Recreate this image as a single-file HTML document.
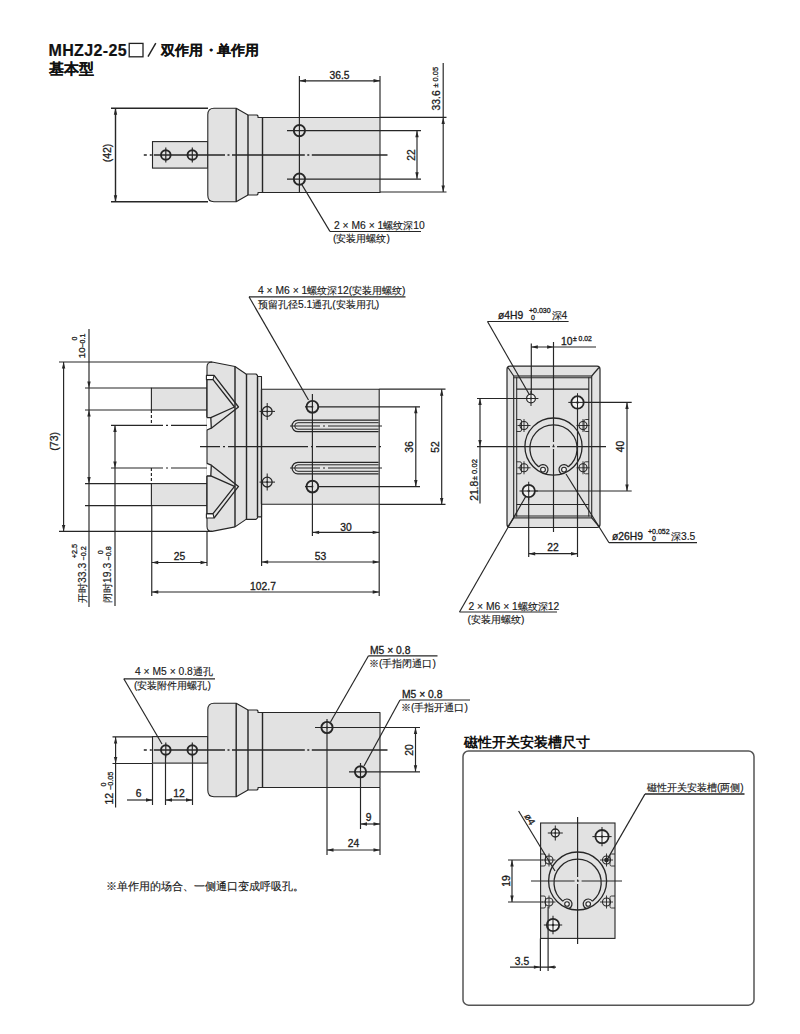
<!DOCTYPE html>
<html><head><meta charset="utf-8"><title>MHZJ2-25</title>
<style>
html,body{margin:0;padding:0;background:#fff;}
body{width:800px;height:1034px;overflow:hidden;position:relative;}
svg{position:absolute;left:0;top:0;display:block;}
text{font-family:"Liberation Sans",sans-serif;}
</style></head><body>
<svg width="800" height="1034" viewBox="0 0 800 1034">
<rect width="800" height="1034" fill="#fff"/>
<text x="48.5" y="55.6" font-size="16" text-anchor="start" font-weight="bold" fill="#111" stroke="#111" stroke-width="0.2" letter-spacing="0.35">MHZJ2-25</text>
<rect x="129.2" y="43.4" width="13.8" height="13.4" fill="none" stroke="#222" stroke-width="1.3"/>
<line x1="148" y1="56.6" x2="155.8" y2="43.2" stroke="#222" stroke-width="1.4300000000000002"/>
<text x="160.5" y="55.2" font-size="14" text-anchor="start" font-weight="bold" fill="#111" stroke="#111" stroke-width="0.1">双作用</text>
<text x="203.5" y="55.2" font-size="14" text-anchor="start" font-weight="bold" fill="#111" stroke="#111" stroke-width="0.1">・</text>
<text x="216.5" y="55.2" font-size="14" text-anchor="start" font-weight="bold" fill="#111" stroke="#111" stroke-width="0.1">单作用</text>
<text x="48.5" y="74" font-size="14.6" text-anchor="start" font-weight="bold" fill="#111" stroke="#111" stroke-width="0.1">基本型</text>
<rect x="152.5" y="141.6" width="55.3" height="26.5" fill="#e2e2e2" stroke="#262626" stroke-width="1.1"/>
<path d="M214 108.3 L236.2 108.3 L248 115 L257 115 L258 116 L258 117.5 L380 117.5 L380 192.5 L258 192.5 L258 194 L257 195 L248 195 L236.2 201.7 L214 201.7 Q207.8 201.7 207.8 195.2 L207.8 114.8 Q207.8 108.3 214 108.3 Z" fill="#e2e2e2" stroke="#262626" stroke-width="1.1" stroke-linejoin="round"/>
<line x1="236.2" y1="108.3" x2="236.2" y2="201.7" stroke="#262626" stroke-width="1.4300000000000002"/>
<line x1="248" y1="115" x2="248" y2="195" stroke="#262626" stroke-width="1.4300000000000002"/>
<line x1="262.5" y1="117.5" x2="262.5" y2="192.5" stroke="#262626" stroke-width="1.4300000000000002"/>
<line x1="143.8" y1="155" x2="387.5" y2="155" stroke="#262626" stroke-width="1.3" stroke-dasharray="3 3 2 2 71.2 2.5 2 2.5 72.8 2.5 2 2.5 200"/>
<circle cx="165.8" cy="155" r="4.8" fill="none" stroke="#262626" stroke-width="1.9"/>
<line x1="165.8" y1="147.5" x2="165.8" y2="162.5" stroke="#262626" stroke-width="1.1700000000000002"/>
<circle cx="192.3" cy="155" r="4.8" fill="none" stroke="#262626" stroke-width="1.9"/>
<line x1="192.3" y1="147.5" x2="192.3" y2="162.5" stroke="#262626" stroke-width="1.1700000000000002"/>
<line x1="111" y1="108.3" x2="208" y2="108.3" stroke="#262626" stroke-width="1.4300000000000002"/>
<line x1="111" y1="201.7" x2="208" y2="201.7" stroke="#262626" stroke-width="1.4300000000000002"/>
<line x1="115.5" y1="108.3" x2="115.5" y2="201.7" stroke="#262626" stroke-width="1.4300000000000002"/>
<path d="M115.5 108.3 L113.8 114.8 L117.2 114.8 Z" fill="#262626"/>
<path d="M115.5 201.7 L113.8 195.2 L117.2 195.2 Z" fill="#262626"/>
<text x="111.3" y="153" font-size="10.5" text-anchor="middle" font-weight="normal" fill="#1a1a1a" stroke="#1a1a1a" stroke-width="0.3" transform="rotate(-90 111.3 153)">(42)</text>
<circle cx="299.4" cy="130.6" r="5.6" fill="none" stroke="#262626" stroke-width="1.9"/>
<line x1="287" y1="130.6" x2="421" y2="130.6" stroke="#262626" stroke-width="1.1700000000000002"/>
<circle cx="299.4" cy="179.1" r="5.6" fill="none" stroke="#262626" stroke-width="1.9"/>
<line x1="287" y1="179.1" x2="421" y2="179.1" stroke="#262626" stroke-width="1.1700000000000002"/>
<line x1="299.4" y1="76" x2="299.4" y2="192" stroke="#262626" stroke-width="1.1700000000000002"/>
<line x1="380" y1="76" x2="380" y2="117.5" stroke="#262626" stroke-width="1.1700000000000002"/>
<line x1="299.5" y1="80.8" x2="380" y2="80.8" stroke="#262626" stroke-width="1.1700000000000002"/>
<path d="M299.5 80.8 L306 79.1 L306 82.5 Z" fill="#262626"/>
<path d="M380 80.8 L373.5 79.1 L373.5 82.5 Z" fill="#262626"/>
<text x="339.5" y="78.7" font-size="10.3" text-anchor="middle" font-weight="normal" fill="#1a1a1a" stroke="#1a1a1a" stroke-width="0.3">36.5</text>
<line x1="380" y1="117.4" x2="446.5" y2="117.4" stroke="#262626" stroke-width="1.1700000000000002"/>
<line x1="380" y1="192" x2="446.5" y2="192" stroke="#262626" stroke-width="1.1700000000000002"/>
<line x1="443.2" y1="63" x2="443.2" y2="192" stroke="#262626" stroke-width="1.1700000000000002"/>
<path d="M443.2 117.4 L441.5 123.9 L444.9 123.9 Z" fill="#262626"/>
<path d="M443.2 192 L441.5 185.5 L444.9 185.5 Z" fill="#262626"/>
<text x="439.6" y="100.4" font-size="10.3" text-anchor="middle" font-weight="normal" fill="#1a1a1a" stroke="#1a1a1a" stroke-width="0.3" transform="rotate(-90 439.6 100.4)">33.6</text>
<text x="437.6" y="87.5" font-size="7.4" text-anchor="start" font-weight="normal" fill="#1a1a1a" stroke="#1a1a1a" stroke-width="0.3" transform="rotate(-90 437.6 87.5)">± 0.05</text>
<line x1="417" y1="130.8" x2="417" y2="178.8" stroke="#262626" stroke-width="1.1700000000000002"/>
<path d="M417 130.8 L415.3 137.3 L418.7 137.3 Z" fill="#262626"/>
<path d="M417 178.8 L415.3 172.3 L418.7 172.3 Z" fill="#262626"/>
<text x="414.5" y="155" font-size="10.3" text-anchor="middle" font-weight="normal" fill="#1a1a1a" stroke="#1a1a1a" stroke-width="0.3" transform="rotate(-90 414.5 155)">22</text>
<line x1="301.5" y1="184" x2="330" y2="231.5" stroke="#262626" stroke-width="1.3"/>
<line x1="330" y1="231.5" x2="421" y2="231.5" stroke="#262626" stroke-width="1.1700000000000002"/>
<text x="334" y="228.5" font-size="10.3" text-anchor="start" font-weight="normal" fill="#1a1a1a" stroke="#1a1a1a" stroke-width="0.15">2 × M6 × 1螺纹深10</text>
<text x="333" y="241.5" font-size="10.3" text-anchor="start" font-weight="normal" fill="#1a1a1a" stroke="#1a1a1a" stroke-width="0.15">(安装用螺纹)</text>
<rect x="151.4" y="388" width="56" height="22" fill="#e2e2e2" stroke="#262626" stroke-width="1.1"/>
<rect x="151.4" y="483.6" width="56" height="22" fill="#e2e2e2" stroke="#262626" stroke-width="1.1"/>
<path d="M212 362 L235 366.5 L246 374 L256 374 L257.5 375.5 L257.5 376.5 L261.5 376.5 L261.5 389.2 L379.2 389.2 L379.2 504.2 L261.5 504.2 L261.5 516.9 L257.5 516.9 L257.5 517.9 L256 519.4 L246 519.4 L235 526.9 L212 531.4 L212 531.4 Q207 531.4 207 526.4 L207 367 Q207 362 212 362 Z" fill="#e2e2e2" stroke="#262626" stroke-width="1.1" stroke-linejoin="round"/>
<line x1="235" y1="366.5" x2="235" y2="526.9" stroke="#262626" stroke-width="1.4300000000000002"/>
<line x1="246.5" y1="374" x2="246.5" y2="519.4" stroke="#262626" stroke-width="1.4300000000000002"/>
<line x1="257.5" y1="376.5" x2="257.5" y2="516.9" stroke="#262626" stroke-width="1.4300000000000002"/>
<line x1="261.5" y1="389.2" x2="261.5" y2="504.2" stroke="#262626" stroke-width="1.4300000000000002"/>
<path d="M206.4 375.4 L214.1 375.4 L213 379.7 L206.4 379.7 Z" fill="#ffffff" stroke="#262626" stroke-width="1.1" stroke-linejoin="round"/>
<path d="M214.1 375.4 L238.5 407 L211.3 428.2" fill="none" stroke="#262626" stroke-width="1.3" stroke-linejoin="round"/>
<path d="M207 379.7 L213 379.7 L234.5 407 L210.8 417.6 L207 417.6 Z" fill="#e2e2e2" stroke="#262626" stroke-width="1.3" stroke-linejoin="round"/>
<path d="M206.4 417.6 L210.8 417.6 L211.3 428.2 L206.4 430 Z" fill="#fff" stroke="none"/>
<path d="M207 417.6 L210.8 417.6 L211.3 428.2 L207 430" fill="none" stroke="#262626" stroke-width="1.3" stroke-linejoin="round"/>
<path d="M206.4 518 L214.1 518 L213 513.7 L206.4 513.7 Z" fill="#ffffff" stroke="#262626" stroke-width="1.1" stroke-linejoin="round"/>
<path d="M214.1 518 L238.5 486.4 L211.3 465.2" fill="none" stroke="#262626" stroke-width="1.3" stroke-linejoin="round"/>
<path d="M207 513.7 L213 513.7 L234.5 486.4 L210.8 475.8 L207 475.8 Z" fill="#e2e2e2" stroke="#262626" stroke-width="1.3" stroke-linejoin="round"/>
<path d="M206.4 475.8 L210.8 475.8 L211.3 465.2 L206.4 463.4 Z" fill="#fff" stroke="none"/>
<path d="M207 475.8 L210.8 475.8 L211.3 465.2 L207 463.4" fill="none" stroke="#262626" stroke-width="1.3" stroke-linejoin="round"/>
<circle cx="267.2" cy="411.4" r="4.9" fill="none" stroke="#262626" stroke-width="1.3"/>
<line x1="259.5" y1="411.4" x2="275" y2="411.4" stroke="#262626" stroke-width="1.04"/>
<line x1="267.2" y1="402.9" x2="267.2" y2="419.9" stroke="#262626" stroke-width="1.04"/>
<circle cx="267.2" cy="411.4" r="1" fill="#262626"/>
<circle cx="267.2" cy="482.1" r="4.9" fill="none" stroke="#262626" stroke-width="1.3"/>
<line x1="259.5" y1="482.1" x2="275" y2="482.1" stroke="#262626" stroke-width="1.04"/>
<line x1="267.2" y1="473.6" x2="267.2" y2="490.6" stroke="#262626" stroke-width="1.04"/>
<circle cx="267.2" cy="482.1" r="1" fill="#262626"/>
<circle cx="312.4" cy="406.8" r="5.9" fill="none" stroke="#262626" stroke-width="1.9"/>
<circle cx="312.4" cy="406.8" r="1" fill="#262626"/>
<line x1="305" y1="406.8" x2="312" y2="406.8" stroke="#262626" stroke-width="1.1700000000000002"/>
<circle cx="312.4" cy="486.6" r="5.9" fill="none" stroke="#262626" stroke-width="1.9"/>
<circle cx="312.4" cy="486.6" r="1" fill="#262626"/>
<line x1="305" y1="486.6" x2="312" y2="486.6" stroke="#262626" stroke-width="1.1700000000000002"/>
<path d="M378.6 420.2 L297.8 420.2 A5.75 5.75 0 0 0 297.8 431.7 L378.6 431.7" fill="none" stroke="#262626" stroke-width="1.2" stroke-linejoin="round"/>
<path d="M378.6 422.7 L298 422.7 A3.25 3.25 0 0 0 298 429.2 L378.6 429.2" fill="none" stroke="#262626" stroke-width="1.0" stroke-linejoin="round"/>
<line x1="290" y1="425.95" x2="382" y2="425.95" stroke="#262626" stroke-width="1.04" stroke-dasharray="30 3 2 3 200"/>
<path d="M378.6 462.3 L297.8 462.3 A5.75 5.75 0 0 0 297.8 473.8 L378.6 473.8" fill="none" stroke="#262626" stroke-width="1.2" stroke-linejoin="round"/>
<path d="M378.6 464.8 L298 464.8 A3.25 3.25 0 0 0 298 471.3 L378.6 471.3" fill="none" stroke="#262626" stroke-width="1.0" stroke-linejoin="round"/>
<line x1="290" y1="468.05" x2="382" y2="468.05" stroke="#262626" stroke-width="1.04" stroke-dasharray="30 3 2 3 200"/>
<line x1="312.4" y1="394" x2="312.4" y2="536" stroke="#262626" stroke-width="1.1700000000000002"/>
<line x1="200" y1="446.7" x2="382" y2="446.7" stroke="#262626" stroke-width="1.1700000000000002" stroke-dasharray="20 3 2 3 80 3 2 3 60 3 2 3 300"/>
<line x1="59" y1="362" x2="212" y2="362" stroke="#262626" stroke-width="1.1700000000000002"/>
<line x1="59" y1="531.4" x2="212" y2="531.4" stroke="#262626" stroke-width="1.1700000000000002"/>
<line x1="85" y1="388" x2="151.4" y2="388" stroke="#262626" stroke-width="1.1700000000000002"/>
<line x1="85" y1="410" x2="151.4" y2="410" stroke="#262626" stroke-width="1.1700000000000002"/>
<line x1="85" y1="483.6" x2="151.4" y2="483.6" stroke="#262626" stroke-width="1.1700000000000002"/>
<line x1="85" y1="505.6" x2="151.4" y2="505.6" stroke="#262626" stroke-width="1.1700000000000002"/>
<line x1="111" y1="425.4" x2="207" y2="425.4" stroke="#262626" stroke-width="1.1700000000000002" stroke-dasharray="52 3 2 3 300"/>
<line x1="111" y1="468" x2="207" y2="468" stroke="#262626" stroke-width="1.1700000000000002" stroke-dasharray="52 3 2 3 300"/>
<line x1="151.4" y1="410" x2="151.4" y2="425.4" stroke="#262626" stroke-width="1.1700000000000002" stroke-dasharray="3 2"/>
<line x1="151.4" y1="468" x2="151.4" y2="483.6" stroke="#262626" stroke-width="1.1700000000000002" stroke-dasharray="3 2"/>
<line x1="151.75" y1="505.6" x2="151.75" y2="596" stroke="#262626" stroke-width="1.1700000000000002"/>
<line x1="207" y1="531.4" x2="207" y2="566" stroke="#262626" stroke-width="1.1700000000000002"/>
<line x1="261.6" y1="504.4" x2="261.6" y2="566" stroke="#262626" stroke-width="1.1700000000000002"/>
<line x1="379.2" y1="504.4" x2="379.2" y2="596" stroke="#262626" stroke-width="1.1700000000000002"/>
<line x1="63.6" y1="362" x2="63.6" y2="531.4" stroke="#262626" stroke-width="1.1700000000000002"/>
<path d="M63.6 362 L61.9 368.5 L65.3 368.5 Z" fill="#262626"/>
<path d="M63.6 531.4 L61.9 524.9 L65.3 524.9 Z" fill="#262626"/>
<text x="58.3" y="441.3" font-size="10.5" text-anchor="middle" font-weight="normal" fill="#1a1a1a" stroke="#1a1a1a" stroke-width="0.3" transform="rotate(-90 58.3 441.3)">(73)</text>
<line x1="89" y1="329" x2="89" y2="607" stroke="#262626" stroke-width="1.1700000000000002"/>
<path d="M89 388 L87.3 381.5 L90.7 381.5 Z" fill="#262626"/>
<path d="M89 410 L87.3 416.5 L90.7 416.5 Z" fill="#262626"/>
<path d="M89 483.6 L87.3 477.1 L90.7 477.1 Z" fill="#262626"/>
<text x="85.2" y="358.3" font-size="9.8" text-anchor="start" font-weight="normal" fill="#1a1a1a" stroke="#1a1a1a" stroke-width="0.3" transform="rotate(-90 85.2 358.3)">10</text>
<text x="77.3" y="340.5" font-size="7" text-anchor="start" font-weight="normal" fill="#1a1a1a" stroke="#1a1a1a" stroke-width="0.3" transform="rotate(-90 77.3 340.5)">0</text>
<text x="85.2" y="347.5" font-size="7" text-anchor="start" font-weight="normal" fill="#1a1a1a" stroke="#1a1a1a" stroke-width="0.3" transform="rotate(-90 85.2 347.5)">−0.1</text>
<text x="85.5" y="603" font-size="10.4" text-anchor="start" font-weight="normal" fill="#1a1a1a" stroke="#1a1a1a" stroke-width="0.15" transform="rotate(-90 85.5 603)">开时33.3</text>
<text x="77" y="558.2" font-size="7.2" text-anchor="start" font-weight="normal" fill="#1a1a1a" stroke="#1a1a1a" stroke-width="0.3" transform="rotate(-90 77 558.2)">+2.5</text>
<text x="85.5" y="560.5" font-size="7.2" text-anchor="start" font-weight="normal" fill="#1a1a1a" stroke="#1a1a1a" stroke-width="0.3" transform="rotate(-90 85.5 560.5)">−0.2</text>
<line x1="115" y1="425.4" x2="115" y2="606" stroke="#262626" stroke-width="1.1700000000000002"/>
<path d="M115 425.4 L113.3 431.9 L116.7 431.9 Z" fill="#262626"/>
<path d="M115 468 L113.3 461.5 L116.7 461.5 Z" fill="#262626"/>
<text x="111.4" y="603" font-size="10.4" text-anchor="start" font-weight="normal" fill="#1a1a1a" stroke="#1a1a1a" stroke-width="0.15" transform="rotate(-90 111.4 603)">闭时19.3</text>
<text x="103" y="554.3" font-size="7.2" text-anchor="start" font-weight="normal" fill="#1a1a1a" stroke="#1a1a1a" stroke-width="0.3" transform="rotate(-90 103 554.3)">0</text>
<text x="111.4" y="560.5" font-size="7.2" text-anchor="start" font-weight="normal" fill="#1a1a1a" stroke="#1a1a1a" stroke-width="0.3" transform="rotate(-90 111.4 560.5)">−0.8</text>
<line x1="151.75" y1="562.5" x2="207" y2="562.5" stroke="#262626" stroke-width="1.1700000000000002"/>
<path d="M151.75 562.5 L158.25 560.8 L158.25 564.2 Z" fill="#262626"/>
<path d="M207 562.5 L200.5 560.8 L200.5 564.2 Z" fill="#262626"/>
<text x="179.5" y="560" font-size="10.3" text-anchor="middle" font-weight="normal" fill="#1a1a1a" stroke="#1a1a1a" stroke-width="0.3">25</text>
<line x1="261.6" y1="562" x2="379.2" y2="562" stroke="#262626" stroke-width="1.1700000000000002"/>
<path d="M261.6 562 L268.1 560.3 L268.1 563.7 Z" fill="#262626"/>
<path d="M379.2 562 L372.7 560.3 L372.7 563.7 Z" fill="#262626"/>
<text x="320.4" y="560" font-size="10.3" text-anchor="middle" font-weight="normal" fill="#1a1a1a" stroke="#1a1a1a" stroke-width="0.3">53</text>
<line x1="312.6" y1="532.4" x2="379.2" y2="532.4" stroke="#262626" stroke-width="1.1700000000000002"/>
<path d="M312.6 532.4 L319.1 530.7 L319.1 534.1 Z" fill="#262626"/>
<path d="M379.2 532.4 L372.7 530.7 L372.7 534.1 Z" fill="#262626"/>
<text x="346" y="531" font-size="10.3" text-anchor="middle" font-weight="normal" fill="#1a1a1a" stroke="#1a1a1a" stroke-width="0.3">30</text>
<line x1="151.75" y1="592" x2="379.2" y2="592" stroke="#262626" stroke-width="1.1700000000000002"/>
<path d="M151.75 592 L158.25 590.3 L158.25 593.7 Z" fill="#262626"/>
<path d="M379.2 592 L372.7 590.3 L372.7 593.7 Z" fill="#262626"/>
<text x="263" y="590" font-size="10.3" text-anchor="middle" font-weight="normal" fill="#1a1a1a" stroke="#1a1a1a" stroke-width="0.3">102.7</text>
<line x1="379.2" y1="389.2" x2="445.5" y2="389.2" stroke="#262626" stroke-width="1.1700000000000002"/>
<line x1="379.2" y1="504.4" x2="445.5" y2="504.4" stroke="#262626" stroke-width="1.1700000000000002"/>
<line x1="441.7" y1="389.2" x2="441.7" y2="504.4" stroke="#262626" stroke-width="1.1700000000000002"/>
<path d="M441.7 389.2 L440 395.7 L443.4 395.7 Z" fill="#262626"/>
<path d="M441.7 504.4 L440 497.9 L443.4 497.9 Z" fill="#262626"/>
<text x="439" y="447" font-size="10.3" text-anchor="middle" font-weight="normal" fill="#1a1a1a" stroke="#1a1a1a" stroke-width="0.3" transform="rotate(-90 439 447)">52</text>
<line x1="319" y1="406.8" x2="420" y2="406.8" stroke="#262626" stroke-width="1.1700000000000002"/>
<line x1="319" y1="486.6" x2="420" y2="486.6" stroke="#262626" stroke-width="1.1700000000000002"/>
<line x1="415.8" y1="406.8" x2="415.8" y2="486.6" stroke="#262626" stroke-width="1.1700000000000002"/>
<path d="M415.8 406.8 L414.1 413.3 L417.5 413.3 Z" fill="#262626"/>
<path d="M415.8 486.6 L414.1 480.1 L417.5 480.1 Z" fill="#262626"/>
<text x="413" y="447" font-size="10.3" text-anchor="middle" font-weight="normal" fill="#1a1a1a" stroke="#1a1a1a" stroke-width="0.3" transform="rotate(-90 413 447)">36</text>
<line x1="249" y1="296.8" x2="308.5" y2="400" stroke="#262626" stroke-width="1.1700000000000002"/>
<line x1="249" y1="296.8" x2="405.5" y2="296.8" stroke="#262626" stroke-width="1.1700000000000002"/>
<text x="258" y="294" font-size="10.3" text-anchor="start" font-weight="normal" fill="#1a1a1a" stroke="#1a1a1a" stroke-width="0.15">4 × M6 × 1螺纹深12(安装用螺纹)</text>
<text x="258" y="307.5" font-size="10.3" text-anchor="start" font-weight="normal" fill="#1a1a1a" stroke="#1a1a1a" stroke-width="0.15">预留孔径5.1通孔(安装用孔)</text>
<path d="M510 366.2 L597 366.2 Q600 366.2 600 369.2 L600 524.5 Q600 527.5 597 527.5 L510 527.5 Q507 527.5 507 524.5 L507 369.2 Q507 366.2 510 366.2 Z" fill="#e2e2e2" stroke="#262626" stroke-width="1.2" stroke-linejoin="round"/>
<rect x="513.7" y="376" width="78" height="141.9" fill="#e2e2e2" stroke="#262626" stroke-width="1.1"/>
<line x1="516.7" y1="377.2" x2="516.7" y2="516.5" stroke="#262626" stroke-width="1.04"/>
<line x1="588.8" y1="377.2" x2="588.8" y2="516.5" stroke="#262626" stroke-width="1.04"/>
<line x1="513.7" y1="377.8" x2="591.7" y2="377.8" stroke="#262626" stroke-width="1.04"/>
<line x1="513.7" y1="516" x2="591.7" y2="516" stroke="#262626" stroke-width="1.04"/>
<line x1="508" y1="367.5" x2="513.7" y2="376" stroke="#262626" stroke-width="1.1700000000000002"/>
<line x1="599" y1="367.5" x2="591.7" y2="376" stroke="#262626" stroke-width="1.1700000000000002"/>
<line x1="508" y1="526.5" x2="513.7" y2="517.9" stroke="#262626" stroke-width="1.1700000000000002"/>
<line x1="599" y1="526.5" x2="591.7" y2="517.9" stroke="#262626" stroke-width="1.1700000000000002"/>
<line x1="516.5" y1="389.2" x2="589" y2="389.2" stroke="#262626" stroke-width="1.1700000000000002"/>
<line x1="516.5" y1="504.5" x2="589" y2="504.5" stroke="#262626" stroke-width="1.1700000000000002"/>
<circle cx="553.5" cy="446.6" r="28.6" fill="none" stroke="#262626" stroke-width="1.3"/>
<path d="M538.81 466.87 A23.6 23.6 0 1 1 568.19 466.87" fill="none" stroke="#262626" stroke-width="1.3" stroke-linejoin="round"/>
<path d="M538.81 466.87 A5 5 0 1 1 545.35 474.01" fill="none" stroke="#262626" stroke-width="1.2" stroke-linejoin="round"/>
<circle cx="543" cy="469.6" r="2.4" fill="#f6f6f6" stroke="#262626" stroke-width="1.1"/>
<path d="M568.19 466.87 A5 5 0 1 0 561.65 474.01" fill="none" stroke="#262626" stroke-width="1.2" stroke-linejoin="round"/>
<circle cx="564" cy="469.6" r="2.4" fill="#f6f6f6" stroke="#262626" stroke-width="1.1"/>
<circle cx="524" cy="425.5" r="4" fill="none" stroke="#262626" stroke-width="1.1"/>
<line x1="517.5" y1="425.5" x2="530.5" y2="425.5" stroke="#262626" stroke-width="0.9099999999999999"/>
<line x1="524" y1="419" x2="524" y2="432" stroke="#262626" stroke-width="0.9099999999999999"/>
<path d="M516.5 419.5 L520 419.5 Q521.5 419.5 521.5 421 L521.5 430 Q521.5 431.5 520 431.5 L516.5 431.5" fill="none" stroke="#262626" stroke-width="0.9" stroke-linejoin="round"/>
<circle cx="583" cy="425.5" r="4" fill="none" stroke="#262626" stroke-width="1.1"/>
<line x1="576.5" y1="425.5" x2="589.5" y2="425.5" stroke="#262626" stroke-width="0.9099999999999999"/>
<line x1="583" y1="419" x2="583" y2="432" stroke="#262626" stroke-width="0.9099999999999999"/>
<path d="M589 419.5 L585.5 419.5 Q584 419.5 584 421 L584 430 Q584 431.5 585.5 431.5 L589 431.5" fill="none" stroke="#262626" stroke-width="0.9" stroke-linejoin="round"/>
<circle cx="524" cy="467.8" r="4" fill="none" stroke="#262626" stroke-width="1.1"/>
<line x1="517.5" y1="467.8" x2="530.5" y2="467.8" stroke="#262626" stroke-width="0.9099999999999999"/>
<line x1="524" y1="461.3" x2="524" y2="474.3" stroke="#262626" stroke-width="0.9099999999999999"/>
<path d="M516.5 461.8 L520 461.8 Q521.5 461.8 521.5 463.3 L521.5 472.3 Q521.5 473.8 520 473.8 L516.5 473.8" fill="none" stroke="#262626" stroke-width="0.9" stroke-linejoin="round"/>
<circle cx="583" cy="467.8" r="4" fill="none" stroke="#262626" stroke-width="1.1"/>
<line x1="576.5" y1="467.8" x2="589.5" y2="467.8" stroke="#262626" stroke-width="0.9099999999999999"/>
<line x1="583" y1="461.3" x2="583" y2="474.3" stroke="#262626" stroke-width="0.9099999999999999"/>
<path d="M589 461.8 L585.5 461.8 Q584 461.8 584 463.3 L584 472.3 Q584 473.8 585.5 473.8 L589 473.8" fill="none" stroke="#262626" stroke-width="0.9" stroke-linejoin="round"/>
<circle cx="531" cy="398.5" r="4.4" fill="#f4f4f4" stroke="#262626" stroke-width="1.2"/>
<line x1="523.6" y1="398.5" x2="538.4" y2="398.5" stroke="#262626" stroke-width="1.04"/>
<line x1="531" y1="391.1" x2="531" y2="405.9" stroke="#262626" stroke-width="1.04"/>
<circle cx="531" cy="398.5" r="0.9" fill="#262626"/>
<circle cx="577.5" cy="402.4" r="6.2" fill="#f4f4f4" stroke="#262626" stroke-width="1.8"/>
<line x1="568.3" y1="402.4" x2="586.7" y2="402.4" stroke="#262626" stroke-width="1.04"/>
<line x1="577.5" y1="393.2" x2="577.5" y2="411.6" stroke="#262626" stroke-width="1.04"/>
<circle cx="577.5" cy="402.4" r="1.2" fill="#262626"/>
<circle cx="528.7" cy="491" r="6.2" fill="#f4f4f4" stroke="#262626" stroke-width="1.8"/>
<line x1="519.5" y1="491" x2="537.9" y2="491" stroke="#262626" stroke-width="1.04"/>
<line x1="528.7" y1="481.8" x2="528.7" y2="500.2" stroke="#262626" stroke-width="1.04"/>
<circle cx="528.7" cy="491" r="1.2" fill="#262626"/>
<line x1="553.5" y1="342" x2="553.5" y2="532" stroke="#262626" stroke-width="1.1700000000000002" stroke-dasharray="100 2.5 2 2.5 200"/>
<line x1="477" y1="446.6" x2="606" y2="446.6" stroke="#262626" stroke-width="1.1700000000000002" stroke-dasharray="73 2.5 2 2.5 200"/>
<line x1="477" y1="398.5" x2="526" y2="398.5" stroke="#262626" stroke-width="1.1700000000000002"/>
<line x1="480" y1="398.5" x2="480" y2="503.6" stroke="#262626" stroke-width="1.1700000000000002"/>
<path d="M480 398.5 L478.3 405 L481.7 405 Z" fill="#262626"/>
<path d="M480 446.6 L478.3 440.1 L481.7 440.1 Z" fill="#262626"/>
<text x="477.8" y="490.8" font-size="10.3" text-anchor="middle" font-weight="normal" fill="#1a1a1a" stroke="#1a1a1a" stroke-width="0.3" transform="rotate(-90 477.8 490.8)">21.8</text>
<text x="477.3" y="480.2" font-size="7.6" text-anchor="start" font-weight="normal" fill="#1a1a1a" stroke="#1a1a1a" stroke-width="0.3" transform="rotate(-90 477.3 480.2)">± 0.02</text>
<line x1="583" y1="402.4" x2="631.7" y2="402.4" stroke="#262626" stroke-width="1.1700000000000002"/>
<line x1="535" y1="491" x2="631.7" y2="491" stroke="#262626" stroke-width="1.1700000000000002"/>
<line x1="627" y1="402.4" x2="627" y2="491" stroke="#262626" stroke-width="1.1700000000000002"/>
<path d="M627 402.4 L625.3 408.9 L628.7 408.9 Z" fill="#262626"/>
<path d="M627 491 L625.3 484.5 L628.7 484.5 Z" fill="#262626"/>
<text x="624.5" y="446.6" font-size="10.3" text-anchor="middle" font-weight="normal" fill="#1a1a1a" stroke="#1a1a1a" stroke-width="0.3" transform="rotate(-90 624.5 446.6)">40</text>
<line x1="531.3" y1="343.6" x2="531.3" y2="394" stroke="#262626" stroke-width="1.1700000000000002"/>
<line x1="531.3" y1="347" x2="596" y2="347" stroke="#262626" stroke-width="1.1700000000000002"/>
<path d="M531.3 347 L537.8 345.3 L537.8 348.7 Z" fill="#262626"/>
<path d="M553.6 347 L547.1 345.3 L547.1 348.7 Z" fill="#262626"/>
<text x="561" y="345.2" font-size="10.4" text-anchor="start" font-weight="normal" fill="#1a1a1a" stroke="#1a1a1a" stroke-width="0.3">10</text>
<text x="573" y="341.3" font-size="6.8" text-anchor="start" font-weight="normal" fill="#1a1a1a" stroke="#1a1a1a" stroke-width="0.3">± 0.02</text>
<line x1="528.7" y1="497" x2="528.7" y2="557" stroke="#262626" stroke-width="1.1700000000000002"/>
<line x1="577.5" y1="408" x2="577.5" y2="557" stroke="#262626" stroke-width="1.1700000000000002"/>
<line x1="528.7" y1="553.7" x2="577.5" y2="553.7" stroke="#262626" stroke-width="1.1700000000000002"/>
<path d="M528.7 553.7 L535.2 552 L535.2 555.4 Z" fill="#262626"/>
<path d="M577.5 553.7 L571 552 L571 555.4 Z" fill="#262626"/>
<text x="553.1" y="551" font-size="10.3" text-anchor="middle" font-weight="normal" fill="#1a1a1a" stroke="#1a1a1a" stroke-width="0.3">22</text>
<line x1="487.5" y1="321.5" x2="568.6" y2="321.5" stroke="#262626" stroke-width="1.1700000000000002"/>
<line x1="487.5" y1="321.5" x2="529" y2="394" stroke="#262626" stroke-width="1.1700000000000002"/>
<text x="498" y="319" font-size="10.3" text-anchor="start" font-weight="normal" fill="#1a1a1a" stroke="#1a1a1a" stroke-width="0.3">ø4H9</text>
<text x="529" y="313" font-size="7" text-anchor="start" font-weight="normal" fill="#1a1a1a" stroke="#1a1a1a" stroke-width="0.3">+0.030</text>
<text x="531" y="320" font-size="7" text-anchor="start" font-weight="normal" fill="#1a1a1a" stroke="#1a1a1a" stroke-width="0.3">0</text>
<text x="551.5" y="319" font-size="10.3" text-anchor="start" font-weight="normal" fill="#1a1a1a" stroke="#1a1a1a" stroke-width="0.15">深4</text>
<line x1="566" y1="474" x2="609" y2="542.7" stroke="#262626" stroke-width="1.1700000000000002"/>
<line x1="609" y1="542.7" x2="697" y2="542.7" stroke="#262626" stroke-width="1.1700000000000002"/>
<text x="612" y="540" font-size="10.3" text-anchor="start" font-weight="normal" fill="#1a1a1a" stroke="#1a1a1a" stroke-width="0.3">ø26H9</text>
<text x="648" y="534" font-size="7" text-anchor="start" font-weight="normal" fill="#1a1a1a" stroke="#1a1a1a" stroke-width="0.3">+0.052</text>
<text x="652" y="541" font-size="7" text-anchor="start" font-weight="normal" fill="#1a1a1a" stroke="#1a1a1a" stroke-width="0.3">0</text>
<text x="671" y="540" font-size="10.3" text-anchor="start" font-weight="normal" fill="#1a1a1a" stroke="#1a1a1a" stroke-width="0.15">深3.5</text>
<line x1="526" y1="496" x2="459.5" y2="612" stroke="#262626" stroke-width="1.1700000000000002"/>
<line x1="459.5" y1="612" x2="557" y2="612" stroke="#262626" stroke-width="1.1700000000000002"/>
<text x="468.5" y="610" font-size="10.3" text-anchor="start" font-weight="normal" fill="#1a1a1a" stroke="#1a1a1a" stroke-width="0.15">2 × M6 × 1螺纹深12</text>
<text x="467.5" y="623" font-size="10.3" text-anchor="start" font-weight="normal" fill="#1a1a1a" stroke="#1a1a1a" stroke-width="0.15">(安装用螺纹)</text>
<rect x="152.5" y="736.6" width="55.3" height="26.5" fill="#e2e2e2" stroke="#262626" stroke-width="1.1"/>
<path d="M214 703.3 L236.2 703.3 L248 710 L257 710 L258 711 L258 712.5 L380 712.5 L380 787.5 L258 787.5 L258 789 L257 790 L248 790 L236.2 796.7 L214 796.7 Q207.8 796.7 207.8 790.2 L207.8 709.8 Q207.8 703.3 214 703.3 Z" fill="#e2e2e2" stroke="#262626" stroke-width="1.1" stroke-linejoin="round"/>
<line x1="236.2" y1="703.3" x2="236.2" y2="796.7" stroke="#262626" stroke-width="1.4300000000000002"/>
<line x1="248" y1="710" x2="248" y2="790" stroke="#262626" stroke-width="1.4300000000000002"/>
<line x1="262.5" y1="712.5" x2="262.5" y2="787.5" stroke="#262626" stroke-width="1.4300000000000002"/>
<line x1="143.8" y1="750" x2="387.5" y2="750" stroke="#262626" stroke-width="1.3" stroke-dasharray="3 3 2 2 71.2 2.5 2 2.5 72.8 2.5 2 2.5 200"/>
<circle cx="165.8" cy="750" r="4.8" fill="none" stroke="#262626" stroke-width="1.9"/>
<line x1="165.8" y1="742.5" x2="165.8" y2="757.5" stroke="#262626" stroke-width="1.1700000000000002"/>
<circle cx="192.3" cy="750" r="4.8" fill="none" stroke="#262626" stroke-width="1.9"/>
<line x1="192.3" y1="742.5" x2="192.3" y2="757.5" stroke="#262626" stroke-width="1.1700000000000002"/>
<circle cx="327" cy="727.5" r="5.6" fill="none" stroke="#262626" stroke-width="1.9"/>
<circle cx="327" cy="727.5" r="0.9" fill="#262626"/>
<circle cx="360.5" cy="771.8" r="5.6" fill="none" stroke="#262626" stroke-width="1.9"/>
<circle cx="360.5" cy="771.8" r="0.9" fill="#262626"/>
<line x1="315" y1="727.5" x2="420" y2="727.5" stroke="#262626" stroke-width="1.1700000000000002"/>
<line x1="349" y1="771.8" x2="420" y2="771.8" stroke="#262626" stroke-width="1.1700000000000002"/>
<line x1="327" y1="719" x2="327" y2="855" stroke="#262626" stroke-width="1.1700000000000002"/>
<line x1="360.5" y1="763" x2="360.5" y2="829" stroke="#262626" stroke-width="1.1700000000000002"/>
<line x1="380" y1="788" x2="380" y2="855" stroke="#262626" stroke-width="1.1700000000000002"/>
<line x1="415.5" y1="727.5" x2="415.5" y2="771.8" stroke="#262626" stroke-width="1.1700000000000002"/>
<path d="M415.5 727.5 L413.8 734 L417.2 734 Z" fill="#262626"/>
<path d="M415.5 771.8 L413.8 765.3 L417.2 765.3 Z" fill="#262626"/>
<text x="413" y="750" font-size="10.3" text-anchor="middle" font-weight="normal" fill="#1a1a1a" stroke="#1a1a1a" stroke-width="0.3" transform="rotate(-90 413 750)">20</text>
<line x1="360.5" y1="824" x2="380" y2="824" stroke="#262626" stroke-width="1.1700000000000002"/>
<path d="M360.5 824 L367 822.3 L367 825.7 Z" fill="#262626"/>
<path d="M380 824 L373.5 822.3 L373.5 825.7 Z" fill="#262626"/>
<text x="368.5" y="821" font-size="10.3" text-anchor="middle" font-weight="normal" fill="#1a1a1a" stroke="#1a1a1a" stroke-width="0.3">9</text>
<line x1="327" y1="850" x2="380" y2="850" stroke="#262626" stroke-width="1.1700000000000002"/>
<path d="M327 850 L333.5 848.3 L333.5 851.7 Z" fill="#262626"/>
<path d="M380 850 L373.5 848.3 L373.5 851.7 Z" fill="#262626"/>
<text x="353.5" y="847" font-size="10.3" text-anchor="middle" font-weight="normal" fill="#1a1a1a" stroke="#1a1a1a" stroke-width="0.3">24</text>
<line x1="330.5" y1="722" x2="368.5" y2="655.8" stroke="#262626" stroke-width="1.1700000000000002"/>
<line x1="368.5" y1="655.8" x2="437.5" y2="655.8" stroke="#262626" stroke-width="1.1700000000000002"/>
<text x="370" y="653.5" font-size="10.3" text-anchor="start" font-weight="normal" fill="#1a1a1a" stroke="#1a1a1a" stroke-width="0.3">M5 × 0.8</text>
<text x="369" y="666.5" font-size="10.3" text-anchor="start" font-weight="normal" fill="#1a1a1a" stroke="#1a1a1a" stroke-width="0.15">※(手指闭通口)</text>
<line x1="364" y1="766" x2="400" y2="700" stroke="#262626" stroke-width="1.1700000000000002"/>
<line x1="400" y1="700" x2="470" y2="700" stroke="#262626" stroke-width="1.1700000000000002"/>
<text x="402" y="697.5" font-size="10.3" text-anchor="start" font-weight="normal" fill="#1a1a1a" stroke="#1a1a1a" stroke-width="0.3">M5 × 0.8</text>
<text x="401" y="710.5" font-size="10.3" text-anchor="start" font-weight="normal" fill="#1a1a1a" stroke="#1a1a1a" stroke-width="0.15">※(手指开通口)</text>
<line x1="123.8" y1="678.8" x2="215" y2="678.8" stroke="#262626" stroke-width="1.1700000000000002"/>
<line x1="123.8" y1="678.8" x2="162" y2="744" stroke="#262626" stroke-width="1.1700000000000002"/>
<text x="135" y="675" font-size="10.3" text-anchor="start" font-weight="normal" fill="#1a1a1a" stroke="#1a1a1a" stroke-width="0.15">4 × M5 × 0.8通孔</text>
<text x="134" y="688.5" font-size="10.3" text-anchor="start" font-weight="normal" fill="#1a1a1a" stroke="#1a1a1a" stroke-width="0.15">(安装附件用螺孔)</text>
<line x1="112.5" y1="736.9" x2="152.5" y2="736.9" stroke="#262626" stroke-width="1.1700000000000002"/>
<line x1="112.5" y1="763.5" x2="152.5" y2="763.5" stroke="#262626" stroke-width="1.1700000000000002"/>
<line x1="115.6" y1="736.9" x2="115.6" y2="807.6" stroke="#262626" stroke-width="1.1700000000000002"/>
<path d="M115.6 736.9 L113.9 743.4 L117.3 743.4 Z" fill="#262626"/>
<path d="M115.6 763.5 L113.9 757 L117.3 757 Z" fill="#262626"/>
<text x="113" y="804.5" font-size="10.4" text-anchor="start" font-weight="normal" fill="#1a1a1a" stroke="#1a1a1a" stroke-width="0.3" transform="rotate(-90 113 804.5)">12</text>
<text x="105.5" y="786.5" font-size="7.2" text-anchor="start" font-weight="normal" fill="#1a1a1a" stroke="#1a1a1a" stroke-width="0.3" transform="rotate(-90 105.5 786.5)">0</text>
<text x="113.3" y="790" font-size="7.2" text-anchor="start" font-weight="normal" fill="#1a1a1a" stroke="#1a1a1a" stroke-width="0.3" transform="rotate(-90 113.3 790)">−0.05</text>
<line x1="152.5" y1="763.7" x2="152.5" y2="805" stroke="#262626" stroke-width="1.1700000000000002"/>
<line x1="165.5" y1="755" x2="165.5" y2="805" stroke="#262626" stroke-width="1.1700000000000002"/>
<line x1="192.5" y1="755" x2="192.5" y2="805" stroke="#262626" stroke-width="1.1700000000000002"/>
<line x1="127" y1="800" x2="152.5" y2="800" stroke="#262626" stroke-width="1.1700000000000002"/>
<path d="M152.5 800 L146 798.3 L146 801.7 Z" fill="#262626"/>
<text x="138.5" y="797" font-size="10.3" text-anchor="middle" font-weight="normal" fill="#1a1a1a" stroke="#1a1a1a" stroke-width="0.3">6</text>
<line x1="165.5" y1="800" x2="192.5" y2="800" stroke="#262626" stroke-width="1.1700000000000002"/>
<path d="M165.5 800 L172 798.3 L172 801.7 Z" fill="#262626"/>
<path d="M192.5 800 L186 798.3 L186 801.7 Z" fill="#262626"/>
<text x="179" y="797" font-size="10.3" text-anchor="middle" font-weight="normal" fill="#1a1a1a" stroke="#1a1a1a" stroke-width="0.3">12</text>
<text x="105.5" y="889.5" font-size="10.6" text-anchor="start" font-weight="normal" fill="#1a1a1a" stroke="#1a1a1a" stroke-width="0.15">※单作用的场合、一侧通口变成呼吸孔。</text>
<text x="463.5" y="746.6" font-size="14" text-anchor="start" font-weight="bold" fill="#111">磁性开关安装槽尺寸</text>
<rect x="463" y="751" width="291" height="254.2" rx="5.5" fill="none" stroke="#555" stroke-width="1.5"/>
<rect x="540.6" y="823" width="74.4" height="115.4" fill="#e2e2e2" stroke="#262626" stroke-width="1.1"/>
<circle cx="577.6" cy="881" r="29" fill="none" stroke="#262626" stroke-width="1.3"/>
<path d="M562.84 901.22 A23.6 23.6 0 1 1 592.36 901.22" fill="none" stroke="#262626" stroke-width="1.3" stroke-linejoin="round"/>
<path d="M562.84 901.22 A5 5 0 1 1 568.85 908.65" fill="none" stroke="#262626" stroke-width="1.2" stroke-linejoin="round"/>
<circle cx="567" cy="904" r="2.3" fill="#f6f6f6" stroke="#262626" stroke-width="1.1"/>
<path d="M592.36 901.22 A5 5 0 1 0 586.35 908.65" fill="none" stroke="#262626" stroke-width="1.2" stroke-linejoin="round"/>
<circle cx="588.2" cy="904" r="2.3" fill="#f6f6f6" stroke="#262626" stroke-width="1.1"/>
<circle cx="549" cy="860" r="4" fill="none" stroke="#262626" stroke-width="1.1"/>
<line x1="542.5" y1="860" x2="555.5" y2="860" stroke="#262626" stroke-width="0.9099999999999999"/>
<line x1="549" y1="853.5" x2="549" y2="866.5" stroke="#262626" stroke-width="0.9099999999999999"/>
<path d="M540.5 854 L544 854 Q545.5 854 545.5 855.5 L545.5 864.5 Q545.5 866 544 866 L540.5 866" fill="none" stroke="#262626" stroke-width="0.9" stroke-linejoin="round"/>
<circle cx="606.5" cy="860" r="4" fill="none" stroke="#262626" stroke-width="1.1"/>
<line x1="600" y1="860" x2="613" y2="860" stroke="#262626" stroke-width="0.9099999999999999"/>
<line x1="606.5" y1="853.5" x2="606.5" y2="866.5" stroke="#262626" stroke-width="0.9099999999999999"/>
<path d="M615 854 L611.5 854 Q610 854 610 855.5 L610 864.5 Q610 866 611.5 866 L615 866" fill="none" stroke="#262626" stroke-width="0.9" stroke-linejoin="round"/>
<circle cx="549" cy="902" r="4" fill="none" stroke="#262626" stroke-width="1.1"/>
<line x1="542.5" y1="902" x2="555.5" y2="902" stroke="#262626" stroke-width="0.9099999999999999"/>
<line x1="549" y1="895.5" x2="549" y2="908.5" stroke="#262626" stroke-width="0.9099999999999999"/>
<path d="M540.5 896 L544 896 Q545.5 896 545.5 897.5 L545.5 906.5 Q545.5 908 544 908 L540.5 908" fill="none" stroke="#262626" stroke-width="0.9" stroke-linejoin="round"/>
<circle cx="606.5" cy="902" r="4" fill="none" stroke="#262626" stroke-width="1.1"/>
<line x1="600" y1="902" x2="613" y2="902" stroke="#262626" stroke-width="0.9099999999999999"/>
<line x1="606.5" y1="895.5" x2="606.5" y2="908.5" stroke="#262626" stroke-width="0.9099999999999999"/>
<path d="M615 896 L611.5 896 Q610 896 610 897.5 L610 906.5 Q610 908 611.5 908 L615 908" fill="none" stroke="#262626" stroke-width="0.9" stroke-linejoin="round"/>
<circle cx="606.5" cy="860" r="2.3" fill="#262626"/>
<circle cx="555.3" cy="833" r="4" fill="#f4f4f4" stroke="#262626" stroke-width="1.4"/>
<line x1="547.8" y1="833" x2="562.8" y2="833" stroke="#262626" stroke-width="1.04"/>
<line x1="555.3" y1="825.5" x2="555.3" y2="840.5" stroke="#262626" stroke-width="1.04"/>
<circle cx="555.3" cy="833" r="0.9" fill="#262626"/>
<circle cx="602" cy="836.6" r="6.6" fill="#f4f4f4" stroke="#262626" stroke-width="1.8"/>
<line x1="592.4" y1="836.6" x2="611.6" y2="836.6" stroke="#262626" stroke-width="1.04"/>
<line x1="602" y1="827" x2="602" y2="846.2" stroke="#262626" stroke-width="1.04"/>
<circle cx="602" cy="836.6" r="1.2" fill="#262626"/>
<circle cx="553" cy="925" r="6.2" fill="#f4f4f4" stroke="#262626" stroke-width="1.8"/>
<line x1="543.8" y1="925" x2="562.2" y2="925" stroke="#262626" stroke-width="1.04"/>
<line x1="553" y1="915.8" x2="553" y2="934.2" stroke="#262626" stroke-width="1.04"/>
<circle cx="553" cy="925" r="1.2" fill="#262626"/>
<line x1="577.6" y1="817" x2="577.6" y2="944" stroke="#262626" stroke-width="1.1700000000000002" stroke-dasharray="60 2.5 2 2.5 200"/>
<line x1="531" y1="881" x2="622" y2="881" stroke="#262626" stroke-width="1.1700000000000002" stroke-dasharray="43.6 2.5 2 2.5 200"/>
<line x1="508" y1="860" x2="543" y2="860" stroke="#262626" stroke-width="1.1700000000000002"/>
<line x1="508" y1="902" x2="543" y2="902" stroke="#262626" stroke-width="1.1700000000000002"/>
<line x1="512" y1="860" x2="512" y2="902" stroke="#262626" stroke-width="1.1700000000000002"/>
<path d="M512 860 L510.3 866.5 L513.7 866.5 Z" fill="#262626"/>
<path d="M512 902 L510.3 895.5 L513.7 895.5 Z" fill="#262626"/>
<text x="509.5" y="881" font-size="10.3" text-anchor="middle" font-weight="normal" fill="#1a1a1a" stroke="#1a1a1a" stroke-width="0.3" transform="rotate(-90 509.5 881)">19</text>
<line x1="518.6" y1="811" x2="555" y2="871" stroke="#262626" stroke-width="1.1700000000000002"/>
<text x="527" y="821" font-size="9.5" text-anchor="middle" font-weight="normal" fill="#1a1a1a" stroke="#1a1a1a" stroke-width="0.3" transform="rotate(58 527 821)">ø4</text>
<line x1="607.5" y1="859" x2="645" y2="794" stroke="#262626" stroke-width="1.3"/>
<line x1="645" y1="794" x2="744.5" y2="794" stroke="#262626" stroke-width="1.3"/>
<text x="647" y="791" font-size="10.1" text-anchor="start" font-weight="normal" fill="#1a1a1a" stroke="#1a1a1a" stroke-width="0.15">磁性开关安装槽(两侧)</text>
<line x1="540.4" y1="938.4" x2="540.4" y2="971" stroke="#262626" stroke-width="1.1700000000000002"/>
<line x1="548.1" y1="907" x2="548.1" y2="971" stroke="#262626" stroke-width="1.1700000000000002"/>
<line x1="510" y1="967.1" x2="556" y2="967.1" stroke="#262626" stroke-width="1.1700000000000002"/>
<path d="M540.4 967.1 L533.9 965.4 L533.9 968.8 Z" fill="#262626"/>
<path d="M548.1 967.1 L554.6 965.4 L554.6 968.8 Z" fill="#262626"/>
<text x="522" y="965" font-size="10.3" text-anchor="middle" font-weight="normal" fill="#1a1a1a" stroke="#1a1a1a" stroke-width="0.3">3.5</text>
</svg>
</body></html>
